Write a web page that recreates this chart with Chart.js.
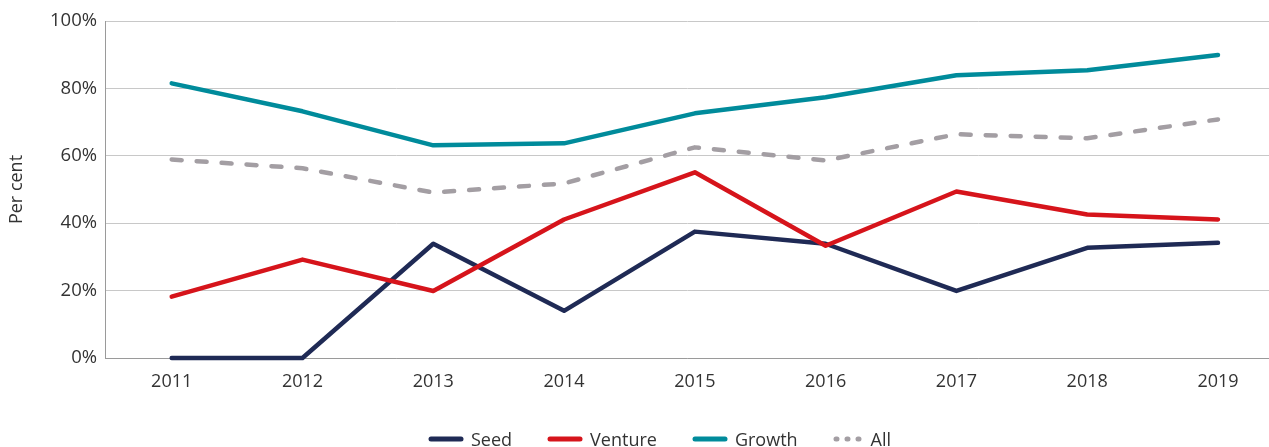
<!DOCTYPE html>
<html>
<head>
<meta charset="utf-8">
<script src="https://cdn.jsdelivr.net/npm/chart.js@4"></script>
<style>
  html, body { margin: 0; padding: 0; background: #fff; }
  #wrap { position: relative; width: 1269px; height: 447px; overflow: hidden; }
  #legend { position: absolute; left: 428px; top: 427px; display: flex; align-items: center;
            font-family: "Open Sans", sans-serif; font-size: 18px; color: #333; }
  .item { display: flex; align-items: center; margin-right: 35px; }
  .item svg { margin-right: 7px; }
</style>
</head>
<body>
<div id="wrap">
  <canvas id="canvas" width="1269" height="447"></canvas>
  <div id="legend"></div>
</div>
<script>
const years = [2011, 2012, 2013, 2014, 2015, 2016, 2017, 2018, 2019];
const seed    = [0, 0, 33.9, 14.0, 37.5, 33.9, 19.9, 32.7, 34.2];
const venture = [18.2, 29.2, 19.9, 41.1, 55.1, 33.3, 49.4, 42.6, 41.1];
const growth  = [81.5, 73.2, 63.1, 63.7, 72.6, 77.4, 83.9, 85.4, 89.9];
const all     = [58.9, 56.3, 49.1, 51.8, 62.5, 58.6, 66.4, 65.2, 70.8];
const yTicks = [0, 20, 40, 60, 80, 100];

const font = "'Open Sans', sans-serif";
const pts = arr => years.map((yr, i) => ({ x: yr, y: arr[i] }));

const series = [
  { label: "Seed", data: seed, color: "#1f2a55" },
  { label: "Venture", data: venture, color: "#d6141b" },
  { label: "Growth", data: growth, color: "#008b9b" },
  { label: "All", data: all, color: "#a39ea3", dash: [10, 15] }
];

const ctx = document.getElementById("canvas").getContext("2d");

new Chart(ctx, {
  type: "line",
  data: {
    datasets: series.map(s => ({
      label: s.label,
      data: pts(s.data),
      borderColor: s.color,
      borderWidth: 4.5,
      borderDash: s.dash || [],
      borderCapStyle: "round",
      borderJoinStyle: "round",
      pointRadius: 0,
      tension: 0,
      fill: false,
      clip: false
    })).reverse()
  },
  options: {
    responsive: false,
    animation: false,
    layout: { padding: { top: 21, left: 0, right: 0, bottom: 0 } },
    plugins: { legend: { display: false }, tooltip: { enabled: false } },
    scales: {
      x: {
        type: "linear",
        min: 2010.49,
        max: 2019.39,
        afterBuildTicks: axis => { axis.ticks = years.map(v => ({ value: v })); },
        afterFit: s => { s.height = 89; },
        grid: { display: false, drawTicks: false },
        border: { display: true, color: "#9a9a9a", width: 1 },
        ticks: {
          padding: 13,
          color: "#333",
          font: { family: font, size: 18 },
          callback: v => String(v)
        }
      },
      y: {
        min: 0,
        max: 100,
        afterBuildTicks: axis => { axis.ticks = yTicks.map(v => ({ value: v })); },
        afterFit: s => { s.width = 105; },
        grid: { color: "#c8c8c8", lineWidth: 1, drawTicks: false },
        border: { display: true, color: "#9a9a9a", width: 1 },
        ticks: {
          padding: 8,
          color: "#333",
          font: { family: font, size: 18.5 },
          callback: v => v + "%"
        },
        title: {
          display: true,
          text: "Per cent",
          color: "#333",
          font: { family: font, size: 18 },
          padding: { top: 6, bottom: 0 }
        }
      }
    }
  }
});

// legend built from the same series
const legend = document.getElementById("legend");
series.forEach(s => {
  const item = document.createElement("span");
  item.className = "item";
  let svg;
  if (s.dash) {
    svg = '<svg width="31" height="8"><line x1="3" y1="4" x2="29" y2="4" stroke="' + s.color +
          '" stroke-width="5" stroke-linecap="round" stroke-dasharray="1 10"/></svg>';
  } else {
    svg = '<svg width="36" height="8"><line x1="3" y1="4" x2="33" y2="4" stroke="' + s.color +
          '" stroke-width="5" stroke-linecap="round"/></svg>';
  }
  item.innerHTML = svg + "<span>" + s.label + "</span>";
  legend.appendChild(item);
});
</script>
</body>
</html>
